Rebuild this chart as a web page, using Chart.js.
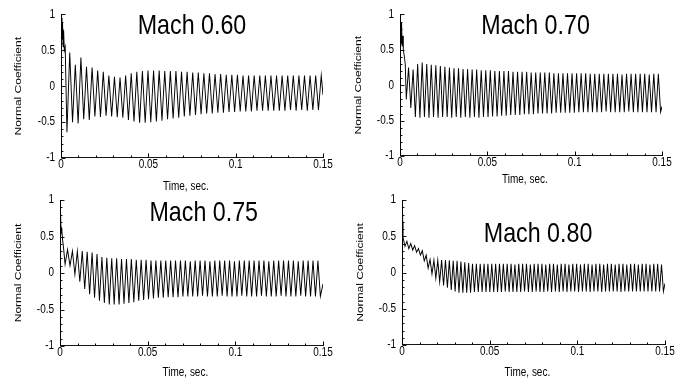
<!DOCTYPE html>
<html><head><meta charset="utf-8">
<script src="https://cdn.jsdelivr.net/npm/chart.js@4.4.1/dist/chart.umd.min.js"></script>
<style>
html,body{margin:0;padding:0;background:#fff;}
#wrap{position:relative;width:679px;height:381px;overflow:hidden;background:#fff;}
canvas{position:absolute;left:0;top:0;}
</style></head><body>
<div id="wrap">
<canvas id="c0" width="818" height="381"></canvas>
<canvas id="c1" width="818" height="381"></canvas>
<canvas id="c2" width="818" height="381"></canvas>
<canvas id="c3" width="818" height="381"></canvas>
</div>
<script>
// ---------- DATA (time in milliseconds, normal coefficient) ----------
const panelTitles = ["Mach 0.60", "Mach 0.70", "Mach 0.75", "Mach 0.80"];
const xTitle = "Time, sec.";
const yTitle = "Normal Coefficient";
const xTickVals = [0, 0.05, 0.1, 0.15];
const yTickVals = [-1, -0.5, 0, 0.5, 1];
const xMinorTicks = [0.01,0.02,0.03,0.04,0.06,0.07,0.08,0.09,0.11,0.12,0.13,0.14];
const yMinorTicks = [-0.9,-0.8,-0.7,-0.6,-0.4,-0.3,-0.2,-0.1,0.1,0.2,0.3,0.4,0.6,0.7,0.8,0.9];

const t060 = [0,0.3,0.6,0.9,1.2,1.5,1.9,2.4,
3.4,5.0,6.6,8.2,9.8,11.4,13.0,14.6,16.2,17.8,
19.4,21.0,22.6,24.2,25.8,27.4,29.0,30.6,32.2,33.8,
35.4,37.0,38.6,40.2,41.8,43.4,45.0,46.6,48.2,49.8,
51.4,53.0,54.6,56.2,57.8,59.4,61.0,62.6,64.2,65.8,
67.4,69.0,70.6,72.2,73.8,75.4,77.0,78.6,80.2,81.8,
83.4,85.0,86.6,88.2,89.8,91.4,93.0,94.6,96.2,97.8,
99.4,101.0,102.6,104.2,105.8,107.4,109.0,110.6,112.2,113.8,
115.4,117.0,118.6,120.2,121.8,123.4,125.0,126.6,128.2,129.8,
131.4,133.0,134.6,136.2,137.8,139.4,141.0,142.6,144.2,145.8,
147.4,149.0,150.0];
const y060 = [0.6,0.95,0.65,0.88,0.55,0.78,0.5,0.55,
-0.64,0.47,-0.50,0.30,-0.52,0.40,-0.46,0.27,-0.47,0.26,
-0.42,0.22,-0.43,0.20,-0.41,0.15,-0.42,0.13,-0.43,0.12,
-0.44,0.15,-0.47,0.18,-0.49,0.20,-0.51,0.21,-0.51,0.22,
-0.50,0.22,-0.49,0.22,-0.48,0.21,-0.46,0.21,-0.45,0.21,
-0.44,0.20,-0.42,0.20,-0.41,0.19,-0.40,0.19,-0.39,0.18,
-0.38,0.18,-0.38,0.17,-0.37,0.17,-0.37,0.16,-0.36,0.16,
-0.36,0.16,-0.35,0.15,-0.35,0.15,-0.35,0.15,-0.34,0.15,
-0.34,0.15,-0.34,0.15,-0.34,0.15,-0.34,0.15,-0.34,0.15,
-0.33,0.15,-0.34,0.15,-0.33,0.15,-0.34,0.15,-0.33,0.15,
-0.33,0.15,-0.12];

const t070 = [0,0.3,0.6,0.9,1.2,1.5,1.9,2.4,3.0,
3.6,4.9,6.2,7.5,8.8,10.1,11.4,12.7,14.0,15.3,
16.6,17.9,19.2,20.5,21.8,23.1,24.4,25.7,27.0,28.3,
29.6,30.9,32.2,33.5,34.8,36.1,37.4,38.7,40.0,41.3,
42.6,43.9,45.2,46.5,47.8,49.1,50.4,51.7,53.0,54.3,
55.6,56.9,58.2,59.5,60.8,62.1,63.4,64.7,66.0,67.3,
68.6,69.9,71.2,72.5,73.8,75.1,76.4,77.7,79.0,80.3,
81.6,82.9,84.2,85.5,86.8,88.1,89.4,90.7,92.0,93.3,
94.6,95.9,97.2,98.5,99.8,101.1,102.4,103.7,105.0,106.3,
107.6,108.9,110.2,111.5,112.8,114.1,115.4,116.7,118.0,119.3,
120.6,121.9,123.2,124.5,125.8,127.1,128.4,129.7,131.0,132.3,
133.6,134.9,136.2,137.5,138.8,140.1,141.4,142.7,144.0,145.3,
146.6,147.9,149.2,150.0];
const y070 = [0.5,0.92,0.6,0.88,0.55,0.7,0.5,0.42,0.3,
-0.20,0.25,-0.32,0.22,-0.45,0.30,-0.46,0.32,-0.45,0.30,
-0.46,0.29,-0.45,0.28,-0.46,0.27,-0.45,0.26,-0.45,0.25,
-0.46,0.24,-0.45,0.24,-0.46,0.23,-0.45,0.23,-0.46,0.22,
-0.45,0.22,-0.46,0.21,-0.45,0.21,-0.45,0.21,-0.44,0.20,
-0.44,0.20,-0.43,0.20,-0.43,0.20,-0.42,0.19,-0.42,0.19,
-0.42,0.19,-0.41,0.19,-0.41,0.18,-0.41,0.18,-0.40,0.18,
-0.40,0.18,-0.40,0.18,-0.40,0.17,-0.39,0.17,-0.39,0.17,
-0.39,0.17,-0.39,0.17,-0.39,0.17,-0.38,0.17,-0.38,0.17,
-0.38,0.16,-0.38,0.16,-0.38,0.16,-0.38,0.16,-0.37,0.16,
-0.38,0.16,-0.38,0.16,-0.38,0.15,-0.38,0.16,-0.37,0.16,
-0.38,0.16,-0.38,0.16,-0.38,0.16,-0.38,0.15,-0.38,0.16,
-0.38,0.16,-0.38,-0.30];

const t075 = [0,0.3,0.6,1.0,1.5,2.0,
2.9,4.3,5.7,7.1,8.5,9.9,11.3,12.7,14.1,15.5,
16.9,18.3,19.7,21.1,22.5,23.9,25.3,26.7,28.1,29.5,
30.9,32.3,33.7,35.1,36.5,37.9,39.3,40.7,42.1,43.5,
44.9,46.3,47.7,49.1,50.5,51.9,53.3,54.7,56.1,57.5,
58.9,60.3,61.7,63.1,64.5,65.9,67.3,68.7,70.1,71.5,
72.9,74.3,75.7,77.1,78.5,79.9,81.3,82.7,84.1,85.5,
86.9,88.3,89.7,91.1,92.5,93.9,95.3,96.7,98.1,99.5,
100.9,102.3,103.7,105.1,106.5,107.9,109.3,110.7,112.1,113.5,
114.9,116.3,117.7,119.1,120.5,121.9,123.3,124.7,126.1,127.5,
128.9,130.3,131.7,133.1,134.5,135.9,137.3,138.7,140.1,141.5,
142.9,144.3,145.7,147.1,148.5,150.0];
const y075 = [0.3,0.85,0.55,0.6,0.45,0.35,
0.12,0.32,0.10,0.30,-0.02,0.30,-0.12,0.30,-0.22,0.29,
-0.29,0.28,-0.34,0.26,-0.38,0.22,-0.41,0.21,-0.43,0.20,
-0.43,0.20,-0.43,0.19,-0.42,0.19,-0.41,0.19,-0.40,0.18,
-0.38,0.18,-0.37,0.18,-0.36,0.17,-0.35,0.17,-0.34,0.17,
-0.34,0.17,-0.33,0.17,-0.33,0.17,-0.33,0.17,-0.32,0.17,
-0.32,0.16,-0.32,0.17,-0.32,0.17,-0.31,0.17,-0.32,0.16,
-0.32,0.17,-0.32,0.17,-0.31,0.17,-0.32,0.17,-0.32,0.16,
-0.32,0.17,-0.31,0.17,-0.32,0.17,-0.32,0.17,-0.32,0.17,
-0.31,0.17,-0.32,0.16,-0.32,0.17,-0.32,0.17,-0.31,0.17,
-0.32,0.17,-0.32,0.17,-0.32,0.16,-0.31,0.17,-0.32,0.17,
-0.32,0.17,-0.32,0.17,-0.32,-0.15];

const t080 = [0,0.2,0.4,
0.6,1.7,2.8,3.9,5.0,6.1,7.2,8.3,9.4,10.5,
11.6,12.7,13.8,14.9,16.0,17.1,18.2,19.3,20.4,21.5,
22.6,23.7,24.8,25.9,27.0,28.1,29.2,30.3,31.4,32.5,
33.6,34.7,35.8,36.9,38.0,39.1,40.2,41.3,42.4,43.5,
44.6,45.7,46.8,47.9,49.0,50.1,51.2,52.3,53.4,54.5,
55.6,56.7,57.8,58.9,60.0,61.1,62.2,63.3,64.4,65.5,
66.6,67.7,68.8,69.9,71.0,72.1,73.2,74.3,75.4,76.5,
77.6,78.7,79.8,80.9,82.0,83.1,84.2,85.3,86.4,87.5,
88.6,89.7,90.8,91.9,93.0,94.1,95.2,96.3,97.4,98.5,
99.6,100.7,101.8,102.9,104.0,105.1,106.2,107.3,108.4,109.5,
110.6,111.7,112.8,113.9,115.0,116.1,117.2,118.3,119.4,120.5,
121.6,122.7,123.8,124.9,126.0,127.1,128.2,129.3,130.4,131.5,
132.6,133.7,134.8,135.9,137.0,138.1,139.2,140.3,141.4,142.5,
143.6,144.7,145.8,146.9,148.0,149.1,150.0];
const y080 = [0.55,1.0,0.7,
0.48,0.36,0.43,0.33,0.40,0.31,0.37,0.28,0.33,0.24,
0.30,0.16,0.24,0.06,0.18,-0.02,0.17,-0.08,0.17,-0.13,
0.17,-0.18,0.17,-0.21,0.17,-0.24,0.16,-0.26,0.16,-0.28,
0.15,-0.28,0.14,-0.28,0.13,-0.28,0.12,-0.27,0.12,-0.27,
0.12,-0.27,0.12,-0.27,0.12,-0.27,0.12,-0.27,0.12,-0.27,
0.12,-0.27,0.12,-0.26,0.12,-0.27,0.12,-0.27,0.11,-0.27,
0.12,-0.27,0.12,-0.26,0.12,-0.27,0.11,-0.27,0.12,-0.26,
0.12,-0.27,0.12,-0.27,0.11,-0.26,0.12,-0.27,0.12,-0.26,
0.11,-0.27,0.12,-0.26,0.12,-0.27,0.11,-0.26,0.12,-0.26,
0.12,-0.27,0.11,-0.26,0.12,-0.26,0.12,-0.27,0.11,-0.26,
0.12,-0.26,0.12,-0.27,0.11,-0.26,0.12,-0.26,0.12,-0.26,
0.11,-0.26,0.12,-0.27,0.12,-0.26,0.11,-0.26,0.12,-0.26,
0.12,-0.26,0.11,-0.26,0.12,-0.26,0.12,-0.26,0.11,-0.26,
0.12,-0.26,0.12,-0.26,0.11,-0.26,-0.15];

const seriesT = [t060, t070, t075, t080];
const seriesY = [y060, y070, y075, y080];

// ---------- LAYOUT / STYLE ----------
// The original figure is horizontally compressed; the chart is laid out on a wider
// logical canvas and drawn with a horizontal scale S.
const CW = 818, H = 381, S = 679 / 818, YAXW = 60;
const FONT = "'Liberation Sans',Arial,sans-serif";
// physical pixel layout of each plot area
const layouts = [
  {L:61,  R:323, T:14,  B:158, XH:36, ytx:18.5,  xtdy:29},
  {L:400, R:662, T:11,  B:156, XH:36, ytx:358.5, xtdy:24},
  {L:60,  R:323, T:200, B:346, XH:35, ytx:18,    xtdy:27},
  {L:402, R:665, T:200, B:345, XH:36, ytx:360,   xtdy:28}
];
const titleAnchors = [[0.075,0.83],[0.0776,0.83],[0.082,0.82],[0.0776,0.53]];
const xTitleAnchor = 0.0715;

const squeeze = {
  id: 'squeeze',
  beforeDraw(chart) { chart.ctx.setTransform(S, 0, 0, 1, 0, 0); }
};

const axesAndTicks = {
  id: 'axesAndTicks',
  afterDraw(chart, args, opts) {
    const {ctx, chartArea: a, scales: {x, y}} = chart;
    const ax = v => (Math.round(v * S) + 0.5) / S;   // align to physical pixel (x)
    const ay = v => Math.round(v) + 0.5;             // align to pixel (y)
    const xl = ax(a.left), yb = Math.round(a.bottom) - 0.5;
    ctx.save();
    ctx.strokeStyle = '#000';
    // vertical strokes: y axis line and x ticks
    ctx.lineWidth = 1 / S;
    ctx.beginPath();
    ctx.moveTo(xl, Math.round(a.top)); ctx.lineTo(xl, yb + 0.5);
    const xt = (v, len) => { const p = ax(x.getPixelForValue(v)); ctx.moveTo(p, yb); ctx.lineTo(p, yb - len); };
    xTickVals.forEach(v => xt(v, 4));
    xMinorTicks.forEach(v => xt(v, 2));
    ctx.stroke();
    // horizontal strokes: x axis line and y ticks
    ctx.lineWidth = 1;
    ctx.beginPath();
    ctx.moveTo(xl, yb); ctx.lineTo(ax(a.right) + 0.5 / S, yb);
    const yt = (v, len) => { const p = ay(y.getPixelForValue(v)); ctx.moveTo(xl, p); ctx.lineTo(xl + len / S, p); };
    yTickVals.forEach(v => yt(v, 4));
    yMinorTicks.forEach(v => yt(v, 2));
    ctx.stroke();
    // x axis title
    ctx.font = '12px ' + FONT;
    ctx.fillStyle = '#000';
    ctx.textAlign = 'center';
    ctx.textBaseline = 'middle';
    ctx.fillText(xTitle, x.getPixelForValue(xTitleAnchor), a.bottom + opts.xtdy);
    ctx.restore();
  }
};

const panelTitle = {
  id: 'panelTitle',
  afterDatasetsDraw(chart, args, opts) {
    const {ctx, scales: {x, y}} = chart;
    ctx.save();
    ctx.font = '28px ' + FONT;
    ctx.fillStyle = '#000';
    ctx.textAlign = 'center';
    ctx.textBaseline = 'middle';
    ctx.fillText(opts.text, x.getPixelForValue(opts.pos[0]), y.getPixelForValue(opts.pos[1]));
    ctx.restore();
  }
};

function makeChart(i) {
  const lay = layouts[i];
  const ts = seriesT[i], ys = seriesY[i];
  const n = Math.min(ts.length, ys.length);
  const pts = [];
  for (let k = 0; k < n; k++) pts.push({x: ts[k] / 1000, y: ys[k]});
  const boxLeft = lay.L / S - YAXW;
  const ytPad = lay.ytx / S - boxLeft - 7.2;
  new Chart(document.getElementById('c' + i), {
    type: 'line',
    data: {datasets: [{data: pts, borderColor: '#000', borderWidth: 1.15, pointRadius: 0, tension: 0, fill: false}]},
    options: {
      responsive: false, animation: false, devicePixelRatio: 1, parsing: false, normalized: true,
      layout: {padding: {left: boxLeft, right: CW - lay.R / S, top: lay.T, bottom: H - lay.B - lay.XH}},
      plugins: {
        legend: {display: false}, tooltip: {enabled: false}, title: {display: false},
        panelTitle: {text: panelTitles[i], pos: titleAnchors[i]},
        axesAndTicks: {xtdy: lay.xtdy}
      },
      scales: {
        x: {
          type: 'linear', min: 0, max: 0.15,
          grid: {display: false, drawTicks: false},
          border: {display: false},
          afterBuildTicks: s => { s.ticks = xTickVals.map(v => ({value: v})); },
          ticks: {color: '#000', font: {family: FONT, size: 12, lineHeight: 1}, padding: 1, maxRotation: 0, autoSkip: false,
                  callback: v => String(v)},
          afterFit: s => { s.height = lay.XH; }
        },
        y: {
          type: 'linear', min: -1, max: 1,
          grid: {display: false, drawTicks: false},
          border: {display: false},
          afterBuildTicks: s => { s.ticks = yTickVals.map(v => ({value: v})); },
          ticks: {color: '#000', font: {family: FONT, size: 12}, padding: 6 / S, autoSkip: false,
                  callback: v => String(v)},
          title: {display: true, text: yTitle, color: '#000', font: {family: FONT, size: 12}, padding: {top: ytPad, bottom: 0}},
          afterFit: s => { s.width = YAXW; }
        }
      }
    },
    plugins: [squeeze, axesAndTicks, panelTitle]
  });
}
for (let i = 0; i < 4; i++) makeChart(i);
</script>
</body></html>
